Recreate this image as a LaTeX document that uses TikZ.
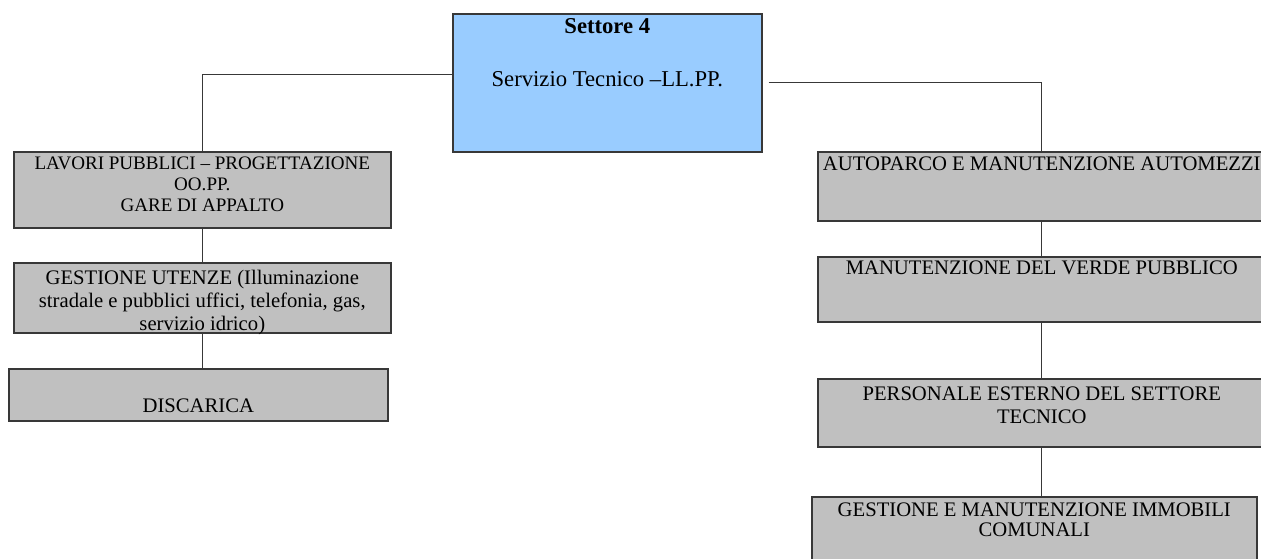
\documentclass[tikz,border=0pt]{standalone}
\usepackage{fontspec}
\setmainfont{Liberation Serif}
\usetikzlibrary{positioning,calc}

\definecolor{settoreblue}{HTML}{99CCFF}
\definecolor{ufficiogray}{HTML}{C0C0C0}
\definecolor{linegray}{HTML}{383838}

% box of fixed size, text starting at the top (#1 = first baseline)
\newcommand{\ufficio}[4][15pt]{\parbox[t][#3][t]{#2}{\centering\rule{0pt}{#1}#4}}

\begin{document}
\begin{tikzpicture}
  [x=0.75pt,y=-0.75pt,
   every node/.style={draw=linegray,line width=1.2pt,inner sep=0pt,anchor=north west,
     font=\fontsize{15.5}{16.5}\selectfont},
   settore/.style={fill=settoreblue,font=\fontsize{17}{18}\selectfont},
   uff/.style={fill=ufficiogray},
   link/.style={draw=linegray,line width=0.9pt}]
  \clip (0,0) rectangle (1261,559);

  \node[settore] (settore) at (452,13)
    {\ufficio{231.75pt}{103.5pt}{\textbf{Settore 4}\\[21.75pt]Servizio Tecnico –LL.PP.}};

  % left column
  \node[uff,font=\fontsize{14.3}{15.75}\selectfont] (lavori) at (13,151)
    {\ufficio[13.5pt]{282.75pt}{57pt}{LAVORI PUBBLICI – PROGETTAZIONE\\OO.PP.\\GARE DI APPALTO}};
  \node[uff,font=\fontsize{15.5}{17}\selectfont] (utenze) at (13,262)
    {\ufficio[16.5pt]{282.75pt}{52.5pt}{GESTIONE UTENZE (Illuminazione\\stradale e pubblici uffici, telefonia, gas,\\servizio idrico)}};
  \node[uff] (discarica) at (8,368)
    {\ufficio[33pt]{284.25pt}{39pt}{DISCARICA}};

  % right column
  \node[uff] (autoparco) at (817,151)
    {\ufficio[14.25pt]{336pt}{51.75pt}{\makebox[\linewidth]{AUTOPARCO E MANUTENZIONE AUTOMEZZI}}};
  \node[uff] (verde) at (817,256)
    {\ufficio[13pt]{336pt}{48.75pt}{MANUTENZIONE DEL VERDE PUBBLICO}};
  \node[uff,font=\fontsize{15.5}{17.25}\selectfont] (personale) at (817,378)
    {\ufficio[16.5pt]{336pt}{51pt}{PERSONALE ESTERNO DEL SETTORE\\TECNICO}};
  \node[uff,font=\fontsize{15.5}{14.5}\selectfont] (immobili) at (811,496)
    {\ufficio{333.75pt}{52.5pt}{GESTIONE E MANUTENZIONE IMMOBILI\\COMUNALI}};

  \draw[link] ([yshift=6pt]settore.west) -| (lavori.north);
  \draw[link] ([xshift=4.5pt]settore.east) -| (autoparco.north);
  \draw[link] (lavori.south) -- (utenze.north);
  \draw[link] (utenze.south) -- (utenze.south |- discarica.north);
  \draw[link] (autoparco.south) -- (verde.north);
  \draw[link] (verde.south) -- (personale.north);
  \draw[link] (personale.south) -- (personale.south |- immobili.north);
\end{tikzpicture}
\end{document}
